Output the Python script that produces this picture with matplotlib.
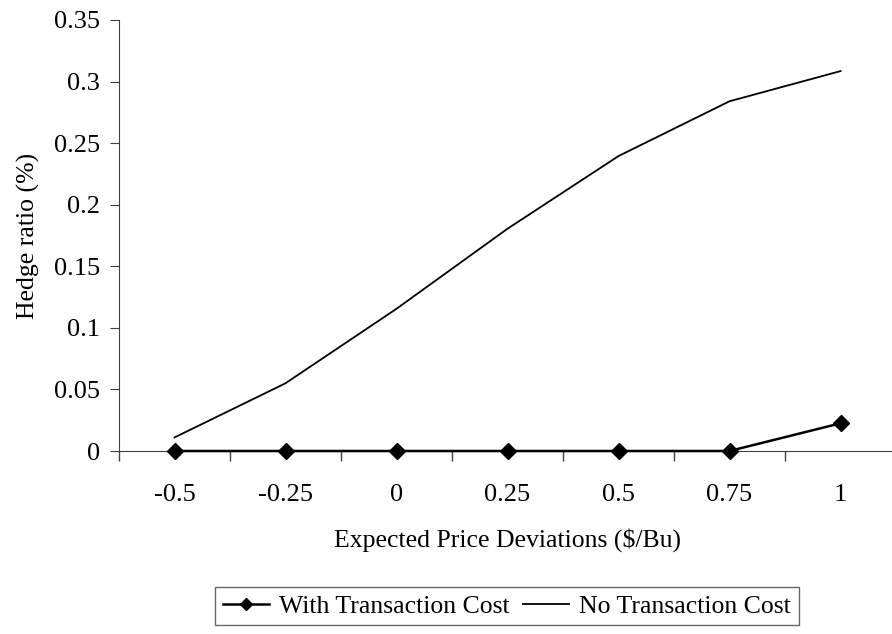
import numpy as np
import matplotlib.pyplot as plt
from matplotlib.ticker import FixedLocator, FuncFormatter

plt.rcParams['font.family'] = ['Liberation Serif', 'DejaVu Serif']

# data
deviations = ['-0.5', '-0.25', '0', '0.25', '0.5', '0.75', '1']
with_cost = [0.0, 0.0, 0.0, 0.0, 0.0, 0.0, 0.0225]
no_cost = [0.011, 0.055, 0.1155, 0.1805, 0.2395, 0.284, 0.3085]

fig = plt.figure(figsize=(8.92, 6.34), dpi=100)
ax = fig.add_axes([119 / 892, 183 / 634, 777 / 892, 431 / 634])

x = np.arange(len(deviations))
ax.plot(x, with_cost, color='black', lw=1.8, marker='D', markersize=8,
        label='With Transaction Cost', clip_on=False, zorder=3)
ax.plot(x, no_cost, color='black', lw=1.3, label='No Transaction Cost')

ax.set_xlim(-0.5, len(deviations) - 0.5)
ax.set_ylim(0, 0.35)
ax.set_yticks(np.arange(0, 0.351, 0.05))
ax.yaxis.set_major_formatter(FuncFormatter(lambda v, p: '%g' % round(v, 2)))

ax.set_xticks(x)
ax.set_xticklabels(deviations)
ax.xaxis.set_minor_locator(FixedLocator(np.arange(-0.5, len(deviations), 1.0)))
ax.tick_params(axis='x', which='major', length=0, pad=24, labelsize=19)
ax.tick_params(axis='x', which='minor', length=7, direction='out', width=1,
               color='#404040')
ax.tick_params(axis='y', length=6.5, direction='out', labelsize=19, pad=7,
               color='#404040')

for s in ['top', 'right']:
    ax.spines[s].set_visible(False)
for s in ['left', 'bottom']:
    ax.spines[s].set_color('#404040')

ax.set_xlabel('Expected Price Deviations ($/Bu)', fontsize=18.5, labelpad=16)
ax.set_ylabel('Hedge ratio (%)', fontsize=18.5, labelpad=10)

leg = fig.legend(loc='center', bbox_to_anchor=(507 / 892, 0.044), ncol=2,
                 fontsize=18.5, frameon=True, fancybox=False, edgecolor='#404040',
                 handlelength=1.8, columnspacing=0.5, handletextpad=0.4,
                 borderpad=0.3, markerscale=0.8)
leg.get_frame().set_linewidth(1)

plt.savefig('out.png', dpi=100)
